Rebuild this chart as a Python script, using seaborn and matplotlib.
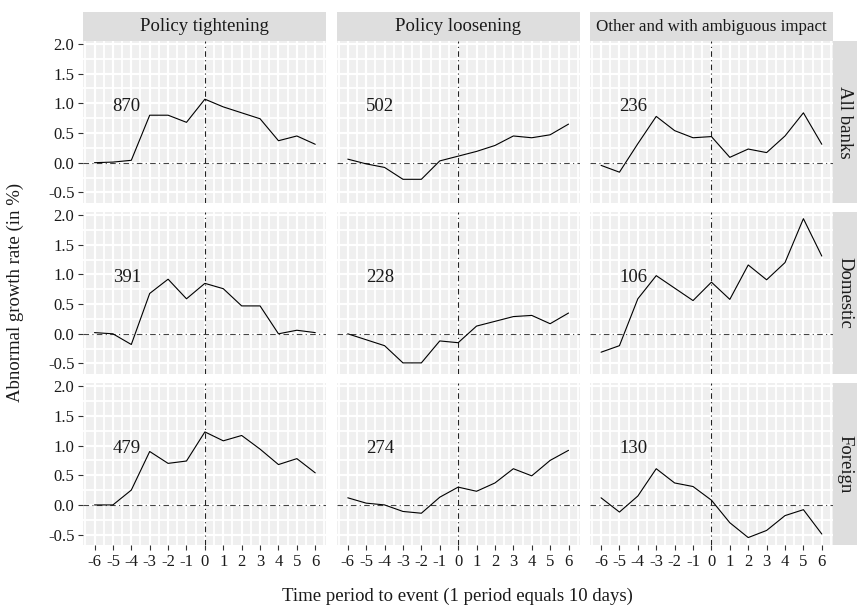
import numpy as np
import pandas as pd
import matplotlib
matplotlib.use("Agg")
import matplotlib.pyplot as plt
from matplotlib.patches import Rectangle
from matplotlib.ticker import MultipleLocator
import seaborn as sns

periods = list(range(-6, 7))
policy_types = ["Policy tightening", "Policy loosening", "Other and with ambiguous impact"]
bank_groups = ["All banks", "Domestic", "Foreign"]

# All banks
all_tight = [0.00, 0.01, 0.04, 0.80, 0.80, 0.68, 1.07, 0.94, 0.84, 0.74, 0.37, 0.45, 0.31]
all_loose = [0.06, -0.02, -0.08, -0.28, -0.28, 0.03, 0.11, 0.19, 0.29, 0.45, 0.42, 0.47, 0.65]
all_other = [-0.045, -0.16, 0.32, 0.78, 0.54, 0.42, 0.44, 0.09, 0.23, 0.17, 0.45, 0.84, 0.31]
# Domestic
dom_tight = [0.02, 0.00, -0.18, 0.68, 0.92, 0.59, 0.85, 0.76, 0.47, 0.47, 0.00, 0.06, 0.02]
dom_loose = [0.00, -0.10, -0.20, -0.49, -0.49, -0.12, -0.15, 0.13, 0.21, 0.29, 0.31, 0.17, 0.35]
dom_other = [-0.31, -0.20, 0.59, 0.98, 0.77, 0.56, 0.87, 0.58, 1.16, 0.91, 1.20, 1.94, 1.31]
# Foreign
for_tight = [0.00, 0.00, 0.25, 0.90, 0.70, 0.74, 1.23, 1.08, 1.17, 0.94, 0.68, 0.78, 0.54]
for_loose = [0.12, 0.03, 0.00, -0.11, -0.14, 0.13, 0.30, 0.23, 0.37, 0.61, 0.49, 0.75, 0.92]
for_other = [0.12, -0.12, 0.15, 0.61, 0.37, 0.31, 0.08, -0.30, -0.55, -0.43, -0.18, -0.08, -0.49]

counts = {
    ("All banks", "Policy tightening"): 870,
    ("All banks", "Policy loosening"): 502,
    ("All banks", "Other and with ambiguous impact"): 236,
    ("Domestic", "Policy tightening"): 391,
    ("Domestic", "Policy loosening"): 228,
    ("Domestic", "Other and with ambiguous impact"): 106,
    ("Foreign", "Policy tightening"): 479,
    ("Foreign", "Policy loosening"): 274,
    ("Foreign", "Other and with ambiguous impact"): 130,
}

series = {
    ("All banks", "Policy tightening"): all_tight,
    ("All banks", "Policy loosening"): all_loose,
    ("All banks", "Other and with ambiguous impact"): all_other,
    ("Domestic", "Policy tightening"): dom_tight,
    ("Domestic", "Policy loosening"): dom_loose,
    ("Domestic", "Other and with ambiguous impact"): dom_other,
    ("Foreign", "Policy tightening"): for_tight,
    ("Foreign", "Policy loosening"): for_loose,
    ("Foreign", "Other and with ambiguous impact"): for_other,
}

rows = []
for (grp, pol), vals in series.items():
    for p, v in zip(periods, vals):
        rows.append({"group": grp, "policy": pol, "period": p, "value": v})
df = pd.DataFrame(rows)

sns.set_theme(style="white")
plt.rcParams["font.family"] = ["Liberation Serif", "DejaVu Serif"]
plt.rcParams["axes.unicode_minus"] = False

fig, axes = plt.subplots(3, 3, figsize=(8.57, 6.14), dpi=100, sharex=True, sharey=True)
fig.subplots_adjust(left=0.0974, right=0.9718, top=0.9332, bottom=0.1124,
                    wspace=0.043, hspace=0.058)

panel_bg = "#EFEFEF"
strip_bg = "#DEDEDE"
txt = "#1a1a1a"
strip_sizes = [13.5, 13.5, 12.2]

for i, grp in enumerate(bank_groups):
    for j, pol in enumerate(policy_types):
        ax = axes[i, j]
        ax.set_facecolor(panel_bg)
        for s in ax.spines.values():
            s.set_visible(False)
        sub = df[(df.group == grp) & (df.policy == pol)]
        ax.axhline(0, color="#444444", lw=0.8, ls=(0, (5, 3, 1, 3)), zorder=2)
        ax.axvline(0, color="#222222", lw=0.8, ls=(0, (5, 3, 1, 3)), zorder=2)
        sns.lineplot(data=sub, x="period", y="value", ax=ax, color="black",
                     lw=0.8, zorder=3)
        ax.set_xlim(-6.6, 6.6)
        ax.set_ylim(-0.675, 2.05)
        ax.xaxis.set_major_locator(MultipleLocator(1))
        ax.xaxis.set_minor_locator(MultipleLocator(0.5))
        ax.yaxis.set_major_locator(MultipleLocator(0.5))
        ax.yaxis.set_minor_locator(MultipleLocator(0.25))
        ax.grid(which="major", color="white", lw=1.6, zorder=0)
        ax.grid(which="minor", color="white", lw=1.3, zorder=0)
        ax.set_axisbelow(True)
        ax.set_xlabel("")
        ax.set_ylabel("")
        ax.tick_params(axis="both", which="major", length=3.5, width=0.8,
                       color="#333333", labelsize=12, labelcolor=txt, pad=3)
        ax.tick_params(axis="both", which="minor", length=0)
        ax.tick_params(axis="x", bottom=(i == 2), labelbottom=(i == 2))
        ax.tick_params(axis="y", left=(j == 0), labelleft=(j == 0))
        ax.text(-4.25, 0.95, str(counts[(grp, pol)]), ha="center", va="center",
                fontsize=13.5, color=txt)
        if i == 0:
            ax.add_patch(Rectangle((0, 1.0), 1, 0.179, transform=ax.transAxes,
                                   facecolor=strip_bg, edgecolor="none", clip_on=False))
            ax.text(0.5, 1.0895, pol, transform=ax.transAxes, ha="center",
                    va="center", fontsize=strip_sizes[j], color=txt)
        if j == 2:
            ax.add_patch(Rectangle((1.0, 0), 0.0986, 1, transform=ax.transAxes,
                                   facecolor=strip_bg, edgecolor="none", clip_on=False))
            ax.text(1.0493, 0.5, grp, transform=ax.transAxes, ha="center",
                    va="center", rotation=-90, fontsize=13.5, color=txt)

axes[2, 0].set_xticks(periods)
axes[2, 0].set_xticklabels([str(p) for p in periods])

fig.text(0.534, 0.028, "Time period to event (1 period equals 10 days)",
         ha="center", va="center", fontsize=13.5, color=txt)
fig.text(0.018, 0.523, "Abnormal growth rate (in %)", ha="center", va="center",
         rotation=90, fontsize=13.5, color=txt)

fig.savefig("out.png", dpi=100)
